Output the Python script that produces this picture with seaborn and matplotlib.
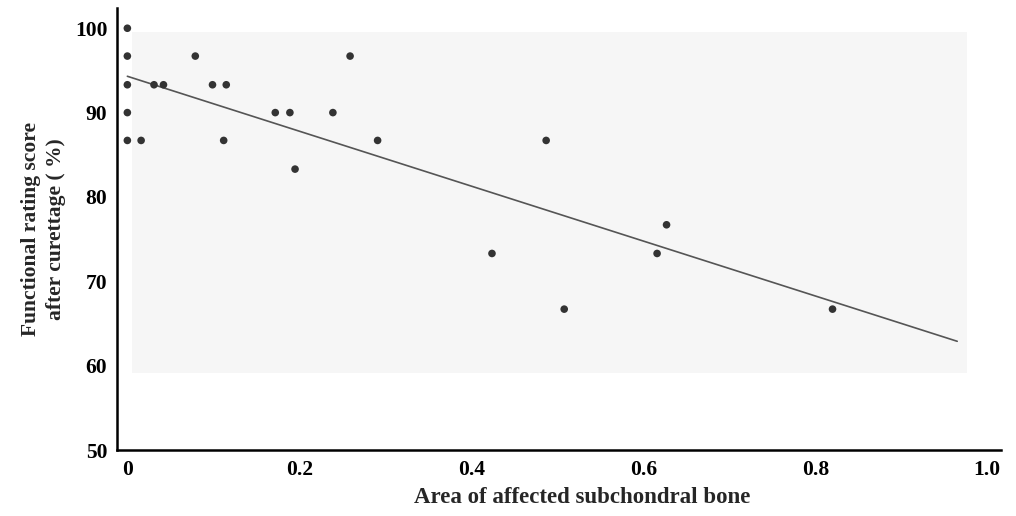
import matplotlib
matplotlib.use('Agg')
import matplotlib.pyplot as plt
import matplotlib.patches as mpatches
import pandas as pd
import seaborn as sns

# area of affected subchondral bone vs functional score
area = [0, 0, 0, 0, 0, 0.016, 0.031, 0.042, 0.079, 0.099, 0.115, 0.112,
        0.172, 0.189, 0.195, 0.239, 0.259, 0.291, 0.424, 0.487, 0.508,
        0.616, 0.627, 0.820]
score = [100, 96.7, 93.3, 90, 86.7, 86.7, 93.3, 93.3, 96.7, 93.3, 93.3, 86.7,
         90, 90, 83.3, 90, 96.7, 86.7, 73.3, 86.7, 66.7,
         73.3, 76.7, 66.7]
fit_end = 0.965  # regression line drawn up to here
x_ticks = [0, 0.2, 0.4, 0.6, 0.8, 1.0]
x_ticklabels = ['0', '0.2', '0.4', '0.6', '0.8', '1.0']
y_ticks = [50, 60, 70, 80, 90, 100]

df = pd.DataFrame({'area': area, 'score': score})

sns.set_style('white')
plt.rcParams['font.family'] = ['Liberation Serif', 'DejaVu Serif']
plt.rcParams['font.weight'] = 'bold'

fig = plt.figure(figsize=(10.16, 5.16), dpi=100)
ax = fig.add_axes([0.1152, 0.1279, 0.8701, 0.8566])

# faint grey panel from the scanned original
ax.add_patch(mpatches.Rectangle((0.017, 0.174), 0.945, 0.772, transform=ax.transAxes,
                                facecolor='#f6f6f6', edgecolor='none', zorder=0))

# line first, over the range the original shows
ax.set_xlim(0, fit_end)
sns.regplot(x='area', y='score', data=df, ax=ax, scatter=False, ci=None,
            truncate=False, line_kws={'color': '#555555', 'lw': 1.2})
sns.scatterplot(x='area', y='score', data=df, ax=ax, color='#333333', s=30,
                edgecolor='none', zorder=3)

ax.set_xlim(-0.012, 1.016)
ax.set_ylim(50, 102.4)
ax.set_xticks(x_ticks)
ax.set_xticklabels(x_ticklabels)
ax.set_yticks(y_ticks)

for side in ['top', 'right']:
    ax.spines[side].set_visible(False)
for side in ['left', 'bottom']:
    ax.spines[side].set_linewidth(1.8)
    ax.spines[side].set_color('black')

ax.tick_params(axis='both', direction='in', length=6, width=1.5, colors='black',
               labelsize=15.5, pad=7)
for lab in ax.get_xticklabels() + ax.get_yticklabels():
    lab.set_fontweight('bold')

ax.set_xlabel('Area of affected subchondral bone', fontsize=16.5, fontweight='bold')
ax.set_ylabel('Functional rating score\nafter curettage ( %)', fontsize=15.5,
              fontweight='bold', linespacing=1.3)
ax.xaxis.set_label_coords(0.526, -0.084)
ax.yaxis.set_label_coords(-0.058, 0.5)

fig.savefig('out.png', dpi=100)
